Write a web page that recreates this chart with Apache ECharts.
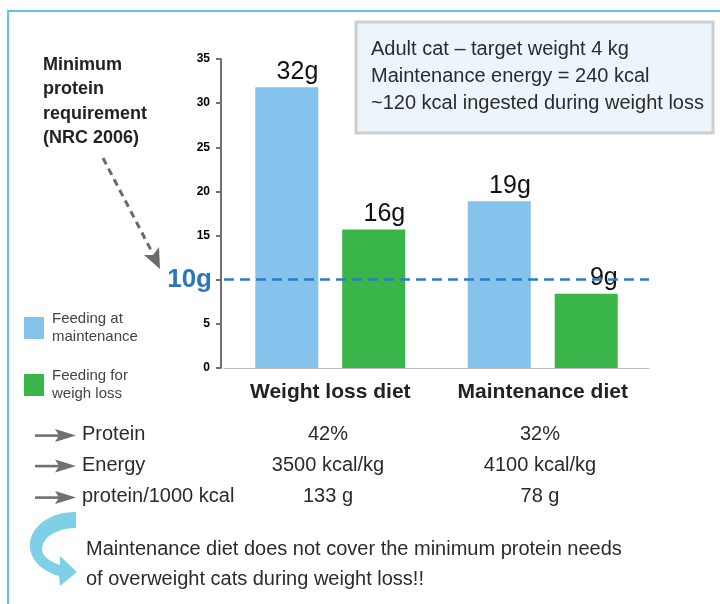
<!DOCTYPE html>
<html><head><meta charset="utf-8">
<script src="https://cdn.jsdelivr.net/npm/echarts@6/dist/echarts.min.js"></script>
<style>html,body{margin:0;padding:0;background:#fff}#c{width:720px;height:604px}</style>
</head><body><div id="c"></div>
<script>
// ---- data ----
const categories = ['Weight loss diet', 'Maintenance diet'];
const seriesNames = ['Feeding at\nmaintenance', 'Feeding for\nweigh loss'];
const maintenanceFeeding = [31.8, 18.9];
const weightLossFeeding = [15.7, 8.4];
const maintenanceLabels = ['32g', '19g'];
const weightLossLabels = ['16g', '9g'];
const minimumProtein = 10;
const minimumProteinLabel = '10g';
const yMin = 0, yMax = 35, yInterval = 5;
const tableRows = ['Protein', 'Energy', 'protein/1000 kcal'];
const weightLossDietInfo = ['42%', '3500 kcal/kg', '133 g'];
const maintenanceDietInfo = ['32%', '4100 kcal/kg', '78 g'];
const boxLines = ['Adult cat \u2013 target weight 4 kg', 'Maintenance energy = 240 kcal', '~120 kcal ingested during weight loss'];
const noteLines = ['Minimum', 'protein', 'requirement', '(NRC 2006)'];
const conclusionLines = ['Maintenance diet does not cover the minimum protein needs', 'of overweight cats during weight loss!!'];

// ---- style ----
const FONT = "'Liberation Sans', Arial, sans-serif";
const BLUE = '#85C3EC', GREEN = '#3AB54A';
const TXT = '#2b2b2b';

const chart = echarts.init(document.getElementById('c'), null, {renderer: 'canvas'});

const rowY = [434.5, 465, 496.5];
const colX = [328, 540];

function bez(p0, p1, p2, p3, n) {
  const pts = [];
  for (let i = 1; i <= n; i++) {
    const t = i / n, u = 1 - t;
    pts.push([
      u*u*u*p0[0] + 3*u*u*t*p1[0] + 3*u*t*t*p2[0] + t*t*t*p3[0],
      u*u*u*p0[1] + 3*u*u*t*p1[1] + 3*u*t*t*p2[1] + t*t*t*p3[1]
    ]);
  }
  return pts;
}
const curvePts = [[76, 512]]
  .concat(bez([76, 512], [46, 512], [28, 530], [30, 548], 16))
  .concat(bez([30, 548], [32, 563], [45, 572], [59, 576], 12))
  .concat([[60, 586], [77, 572], [60, 556], [60, 565]])
  .concat(bez([60, 565], [50, 562], [42, 556], [42, 549], 10))
  .concat(bez([42, 549], [42, 538], [56, 528], [76, 528], 14));

const graphics = [];
// frame
graphics.push({type: 'line', shape: {x1: 8, y1: 11, x2: 720, y2: 11}, style: {stroke: '#62C2EE', lineWidth: 2}, silent: true});
graphics.push({type: 'line', shape: {x1: 8, y1: 10, x2: 8, y2: 604}, style: {stroke: '#62C2EE', lineWidth: 2}, silent: true});
// info box
graphics.push({type: 'rect', shape: {x: 356, y: 22, width: 357, height: 111}, style: {fill: '#EDF5FC', stroke: '#CFCFCF', lineWidth: 3}, silent: true});
graphics.push({type: 'text', x: 371, y: 36, style: {text: boxLines.join('\n'), font: '20px ' + FONT, lineHeight: 27, fill: TXT, verticalAlign: 'top'}, silent: true});
// note
graphics.push({type: 'text', x: 43, y: 53, style: {text: noteLines.join('\n'), font: 'bold 18px ' + FONT, lineHeight: 24.3, fill: '#222', verticalAlign: 'top'}, silent: true});
// dashed arrow
graphics.push({type: 'line', shape: {x1: 103, y1: 158, x2: 152, y2: 252}, style: {stroke: '#6B6B6B', lineWidth: 3, lineDash: [7, 5]}, silent: true});
graphics.push({type: 'polygon', shape: {points: [[160, 269], [159, 247], [153, 255], [144, 255]]}, style: {fill: '#6B6B6B'}, silent: true});
// table
tableRows.forEach((r, i) => {
  const y = rowY[i];
  graphics.push({type: 'rect', shape: {x: 35, y: y - 0.2, width: 24, height: 2.6}, style: {fill: '#707070'}, silent: true});
  graphics.push({type: 'polygon', shape: {points: [[55, y - 5.5], [76, y + 1], [55, y + 7.5], [59, y + 1]]}, style: {fill: '#707070'}, silent: true});
  graphics.push({type: 'text', x: 82, y: y, style: {text: r, font: '20px ' + FONT, fill: TXT, verticalAlign: 'middle', align: 'left'}, silent: true});
  graphics.push({type: 'text', x: colX[0], y: y, style: {text: weightLossDietInfo[i], font: '20px ' + FONT, fill: TXT, verticalAlign: 'middle', align: 'center'}, silent: true});
  graphics.push({type: 'text', x: colX[1], y: y, style: {text: maintenanceDietInfo[i], font: '20px ' + FONT, fill: TXT, verticalAlign: 'middle', align: 'center'}, silent: true});
});
// curved arrow
graphics.push({type: 'polygon', shape: {points: curvePts}, style: {fill: '#7FD0E6'}, silent: true});
graphics.push({type: 'text', x: 86, y: 534, style: {text: conclusionLines.join('\n'), font: '20px ' + FONT, lineHeight: 30, fill: TXT, verticalAlign: 'top'}, silent: true});

const option = {
  animation: false,
  backgroundColor: '#fff',
  grid: {left: 224, right: 71, top: 59, bottom: 236},
  legend: {
    orient: 'vertical', left: 19, top: 305, itemWidth: 20, itemHeight: 22, itemGap: 21, icon: 'rect',
    textStyle: {fontSize: 15, lineHeight: 18, color: '#444', fontFamily: FONT, padding: [0, 0, 0, 3]},
    data: seriesNames, selectedMode: false
  },
  xAxis: {
    type: 'category', data: categories,
    axisLine: {lineStyle: {color: '#BDBDBD', width: 1}},
    axisTick: {show: false},
    axisLabel: {interval: 0, hideOverlap: false, fontSize: 21, fontWeight: 'bold', color: '#222', fontFamily: FONT, margin: 14}
  },
  yAxis: {
    type: 'value', min: yMin, max: yMax, interval: yInterval, offset: 3,
    axisLine: {show: true, lineStyle: {color: '#707070', width: 2}},
    axisTick: {show: true, length: 5, lineStyle: {color: '#707070', width: 2}},
    splitLine: {show: false},
    axisLabel: {formatter: v => (v === minimumProtein ? '' : String(v)), fontSize: 12, fontWeight: 'bold', color: '#000', fontFamily: FONT, margin: 11}
  },
  series: [
    {
      name: seriesNames[0], type: 'bar', data: maintenanceFeeding, barWidth: 63, barGap: '38%',
      itemStyle: {color: BLUE}, emphasis: {disabled: true},
      label: {show: true, position: ['100%', 0], align: 'right', verticalAlign: 'bottom', offset: [0, -3],
        formatter: p => maintenanceLabels[p.dataIndex], fontSize: 25, color: '#111', fontFamily: FONT},
      markLine: {
        silent: true, symbol: 'none', data: [{yAxis: minimumProtein}],
        lineStyle: {color: '#2D7CC4', width: 2.5, type: [10, 6]},
        label: {show: true, position: 'start', formatter: minimumProteinLabel, fontSize: 26, fontWeight: 'bold', color: '#2A75BB', fontFamily: FONT, distance: 12, padding: [0, 0, 6, 0]}
      },
      z: 2
    },
    {
      name: seriesNames[1], type: 'bar', data: weightLossFeeding, barWidth: 63, barGap: '38%',
      itemStyle: {color: GREEN}, emphasis: {disabled: true},
      label: {show: true, position: ['100%', 0], align: 'right', verticalAlign: 'bottom', offset: [0, -3],
        formatter: p => weightLossLabels[p.dataIndex], fontSize: 25, color: '#111', fontFamily: FONT},
      z: 2
    }
  ],
  graphic: graphics
};
chart.setOption(option);
</script>
</body></html>
